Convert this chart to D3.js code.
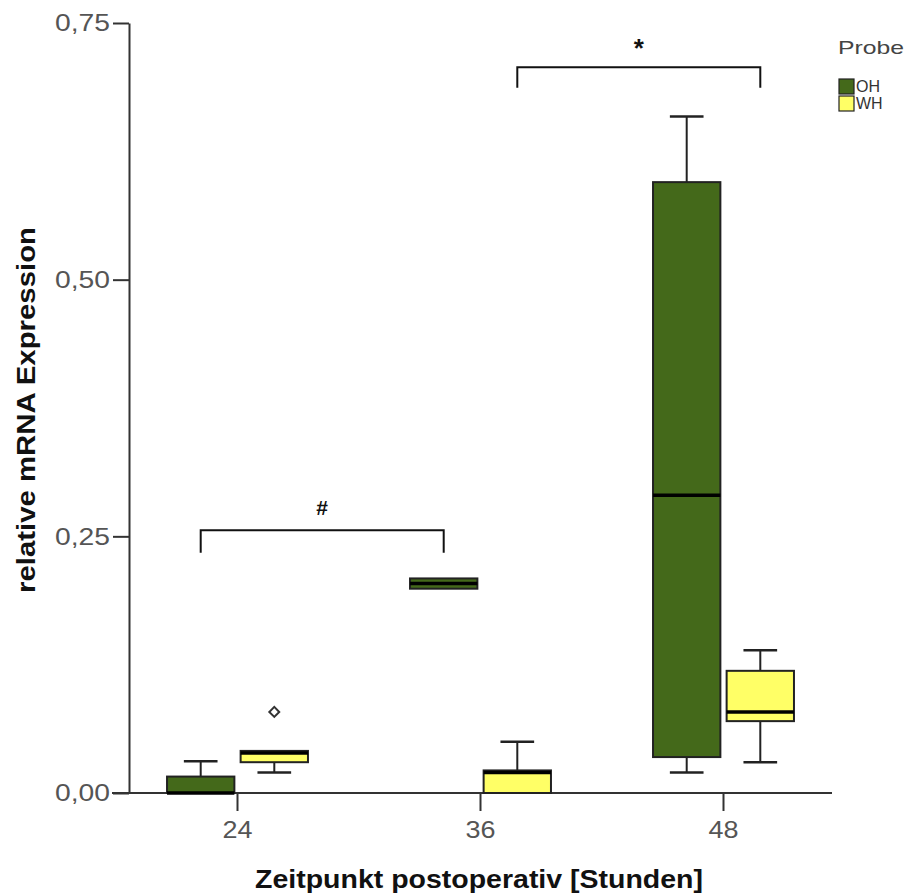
<!DOCTYPE html>
<html>
<head>
<meta charset="utf-8">
<script src="https://cdn.jsdelivr.net/npm/d3@7"></script>
<style>
  html, body { margin: 0; padding: 0; background: #fff; }
  svg { display: block; font-family: "Liberation Sans", Arial, sans-serif; }
</style>
</head>
<body>
<svg id="chart" width="909" height="895"></svg>
<script>
// Time points (hours after surgery) and sample groups
const categories = ["24", "36", "48"];
const groups = ["OH", "WH"];
const groupColors = ["#44691a", "#ffff66"];

// Box-plot statistics per time point: min, q1, median, q3, max
const ohStats = [
  { min: 0.000, q1: 0.000, median: 0.000, q3: 0.016, max: 0.031 },
  { min: 0.199, q1: 0.199, median: 0.204, q3: 0.209, max: 0.209 },
  { min: 0.020, q1: 0.035, median: 0.290, q3: 0.595, max: 0.659 }
];
const whStats = [
  { min: 0.020, q1: 0.030, median: 0.039, q3: 0.041, max: 0.041 },
  { min: 0.000, q1: 0.000, median: 0.020, q3: 0.022, max: 0.050 },
  { min: 0.030, q1: 0.070, median: 0.079, q3: 0.119, max: 0.139 }
];
// Outliers: [time point, group, value]
const outliers = [["24", "WH", 0.079]];

// Y-axis ticks
const yTicks = [0, 0.25, 0.5, 0.75];

// Significance brackets: from/to (time point, group), height, leg end, symbol
const brackets = [
  { from: ["24", "OH"], to: ["36", "OH"], top: 0.256, leg: 0.234, label: "#" },
  { from: ["36", "WH"], to: ["48", "WH"], top: 0.707, leg: 0.687, label: "*" }
];

const svg = d3.select("#chart");

const x = d3.scaleBand().domain(categories).range([116, 845])
  .paddingInner(0.42).paddingOuter(0.21);
const xs = d3.scaleBand().domain(groups).range([0, x.bandwidth()]).paddingInner(0.085);
const y = d3.scaleLinear().domain([0, 0.75]).range([793, 23]);
const color = d3.scaleOrdinal().domain(groups).range(groupColors);

const boxCenter = (c, g) => x(c) + xs(g) + xs.bandwidth() / 2;

// Y axis
const yAxis = svg.append("g")
  .attr("transform", "translate(129,0)")
  .call(d3.axisLeft(y).tickValues(yTicks).tickSize(16).tickSizeOuter(0).tickPadding(3)
    .tickFormat(d => d3.format(".2f")(d).replace(".", ",")));
yAxis.select(".domain").attr("stroke", "#333").attr("stroke-width", 2);
yAxis.selectAll(".tick line").attr("stroke", "#333").attr("stroke-width", 2);
yAxis.selectAll(".tick text")
  .attr("font-size", 24).attr("fill", "#555")
  .attr("font-family", "'Liberation Sans', Arial, sans-serif")
  .attr("textLength", 55).attr("lengthAdjust", "spacingAndGlyphs");

// X axis
const xAxis = svg.append("g")
  .attr("transform", "translate(0,793)")
  .call(d3.axisBottom(x).tickSize(18).tickSizeOuter(0).tickPadding(10));
xAxis.select(".domain").remove();
xAxis.selectAll(".tick line").attr("stroke", "#333").attr("stroke-width", 2);
xAxis.selectAll(".tick text")
  .attr("font-size", 24).attr("fill", "#555")
  .attr("font-family", "'Liberation Sans', Arial, sans-serif")
  .attr("textLength", 30).attr("lengthAdjust", "spacingAndGlyphs");
svg.append("line")
  .attr("x1", 112).attr("x2", 832).attr("y1", y(0)).attr("y2", y(0))
  .attr("stroke", "#333").attr("stroke-width", 2);

// Boxes
const series = [["OH", ohStats], ["WH", whStats]];
const boxes = svg.append("g");
series.forEach(([g, stats]) => {
  stats.forEach((s, i) => {
    const c = categories[i];
    const x0 = x(c) + xs(g);
    const w = xs.bandwidth();
    const cx = x0 + w / 2;
    const capW = w / 2;
    const grp = boxes.append("g");
    // whiskers
    if (s.max > s.q3) {
      grp.append("line").attr("x1", cx).attr("x2", cx).attr("y1", y(s.q3)).attr("y2", y(s.max))
        .attr("stroke", "#222").attr("stroke-width", 2);
      grp.append("line").attr("x1", cx - capW / 2).attr("x2", cx + capW / 2)
        .attr("y1", y(s.max)).attr("y2", y(s.max)).attr("stroke", "#222").attr("stroke-width", 2.5);
    }
    if (s.min < s.q1) {
      grp.append("line").attr("x1", cx).attr("x2", cx).attr("y1", y(s.q1)).attr("y2", y(s.min))
        .attr("stroke", "#222").attr("stroke-width", 2);
      grp.append("line").attr("x1", cx - capW / 2).attr("x2", cx + capW / 2)
        .attr("y1", y(s.min)).attr("y2", y(s.min)).attr("stroke", "#222").attr("stroke-width", 2.5);
    }
    grp.append("rect")
      .attr("x", x0).attr("width", w)
      .attr("y", y(s.q3)).attr("height", y(s.q1) - y(s.q3))
      .attr("fill", color(g)).attr("stroke", "#222").attr("stroke-width", 2);
    grp.append("line").attr("x1", x0).attr("x2", x0 + w)
      .attr("y1", y(s.median)).attr("y2", y(s.median))
      .attr("stroke", "#000").attr("stroke-width", 3.5);
  });
});

// Outliers
svg.append("g").selectAll("path").data(outliers).join("path")
  .attr("transform", d => `translate(${boxCenter(d[0], d[1])},${y(d[2])}) rotate(45)`)
  .attr("d", "M-3.5,-3.5H3.5V3.5H-3.5Z")
  .attr("fill", "#fff").attr("stroke", "#333").attr("stroke-width", 2);

// Significance brackets
const br = svg.append("g");
brackets.forEach(b => {
  const xa = boxCenter(b.from[0], b.from[1]);
  const xb = boxCenter(b.to[0], b.to[1]);
  br.append("path")
    .attr("d", `M${xa},${y(b.leg)}V${y(b.top)}H${xb}V${y(b.leg)}`)
    .attr("fill", "none").attr("stroke", "#111").attr("stroke-width", 2);
  br.append("text")
    .attr("x", (xa + xb) / 2)
    .attr("y", y(b.top) - (b.label === "*" ? 10 : 15))
    .attr("text-anchor", "middle")
    .attr("font-weight", "bold")
    .attr("font-size", b.label === "*" ? 26 : 21)
    .attr("fill", "#111")
    .text(b.label);
});

// Axis titles
svg.append("text")
  .attr("transform", "translate(35,410) rotate(-90)")
  .attr("text-anchor", "middle")
  .attr("font-weight", "bold").attr("font-size", 26).attr("fill", "#111")
  .attr("textLength", 366).attr("lengthAdjust", "spacingAndGlyphs")
  .text("relative mRNA Expression");
svg.append("text")
  .attr("x", 479).attr("y", 888)
  .attr("text-anchor", "middle")
  .attr("font-weight", "bold").attr("font-size", 26).attr("fill", "#111")
  .attr("textLength", 448).attr("lengthAdjust", "spacingAndGlyphs")
  .text("Zeitpunkt postoperativ [Stunden]");

// Legend
const legend = svg.append("g");
legend.append("text").attr("x", 838).attr("y", 54)
  .attr("font-size", 19).attr("fill", "#444")
  .attr("textLength", 66).attr("lengthAdjust", "spacingAndGlyphs")
  .text("Probe");
groups.forEach((g, i) => {
  legend.append("rect")
    .attr("x", 839).attr("y", 79 + i * 17).attr("width", 15).attr("height", 15)
    .attr("fill", color(g)).attr("stroke", "#222").attr("stroke-width", 1.2);
  legend.append("text").attr("x", 856).attr("y", 92 + i * 17)
    .attr("font-size", 16).attr("fill", "#333")
    .text(g);
});
</script>
</body>
</html>
